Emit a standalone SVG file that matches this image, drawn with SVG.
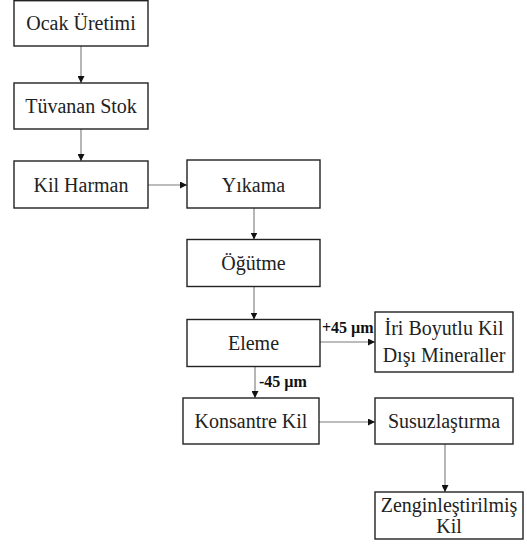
<svg xmlns="http://www.w3.org/2000/svg" width="527" height="544" viewBox="0 0 527 544">
<defs>
<style>
.box{fill:#fff;stroke:#222;stroke-width:1.4}
.t{font-size:20px;fill:#222;text-anchor:middle}
.lbl{font-size:16px;font-weight:bold;fill:#111}
.c{stroke:#7a7a7a;stroke-width:1.1;fill:none;marker-end:url(#ah)}
</style>
<marker id="ah" viewBox="0 0 10 10" refX="10" refY="5" markerWidth="7" markerHeight="7" markerUnits="userSpaceOnUse" orient="auto">
<path d="M0,0 L10,5 L0,10 z" fill="#111"/>
</marker>
</defs>
<rect width="527" height="544" fill="#fff"/>
<g font-family="Liberation Serif, DejaVu Serif, serif">
<g id="connectors">
<line class="c" x1="81" y1="46" x2="81" y2="83"/>
<line class="c" x1="81" y1="129" x2="81" y2="161"/>
<line class="c" x1="148" y1="185" x2="187" y2="185"/>
<line class="c" x1="254" y1="208" x2="254" y2="239.5"/>
<line class="c" x1="254" y1="286.5" x2="254" y2="319.5"/>
<line class="c" x1="320" y1="342" x2="375" y2="342"/>
<text class="lbl" x="322" y="333">+45 µm</text>
<line class="c" x1="255" y1="366.5" x2="255" y2="398"/>
<text class="lbl" x="259" y="387">-45 µm</text>
<line class="c" x1="319" y1="422" x2="375" y2="422"/>
<line class="c" x1="445" y1="444" x2="445" y2="492"/>
</g>
<g id="ocak"><rect class="box" x="14" y="0.7" width="134" height="45.3"/><text class="t" x="81" y="30">Ocak Üretimi</text></g>
<g id="tuvanan"><rect class="box" x="14" y="83" width="134" height="46"/><text class="t" x="81" y="113">Tüvanan Stok</text></g>
<g id="kilharman"><rect class="box" x="14" y="161" width="134" height="47"/><text class="t" x="81" y="192">Kil Harman</text></g>
<g id="yikama"><rect class="box" x="187" y="160" width="133" height="48"/><text class="t" x="253.5" y="191.5">Yıkama</text></g>
<g id="ogutme"><rect class="box" x="187" y="239.5" width="133" height="47"/><text class="t" x="253.5" y="270">Öğütme</text></g>
<g id="eleme"><rect class="box" x="187" y="319.5" width="133" height="47"/><text class="t" x="253.5" y="350">Eleme</text></g>
<g id="iri"><rect class="box" x="375" y="312" width="138" height="60"/><text class="t" x="444" y="335">İri Boyutlu Kil</text><text class="t" x="444" y="361.5">Dışı Mineraller</text></g>
<g id="konsantre"><rect class="box" x="183" y="398" width="136" height="46"/><text class="t" x="251" y="428">Konsantre Kil</text></g>
<g id="susuz"><rect class="box" x="375" y="398" width="138" height="46"/><text class="t" x="444" y="428">Susuzlaştırma</text></g>
<g id="zengin"><rect class="box" x="375" y="492" width="148" height="47"/><text class="t" x="449" y="512">Zenginleştirilmiş</text><text class="t" x="449" y="533">Kil</text></g>
</g>
</svg>
